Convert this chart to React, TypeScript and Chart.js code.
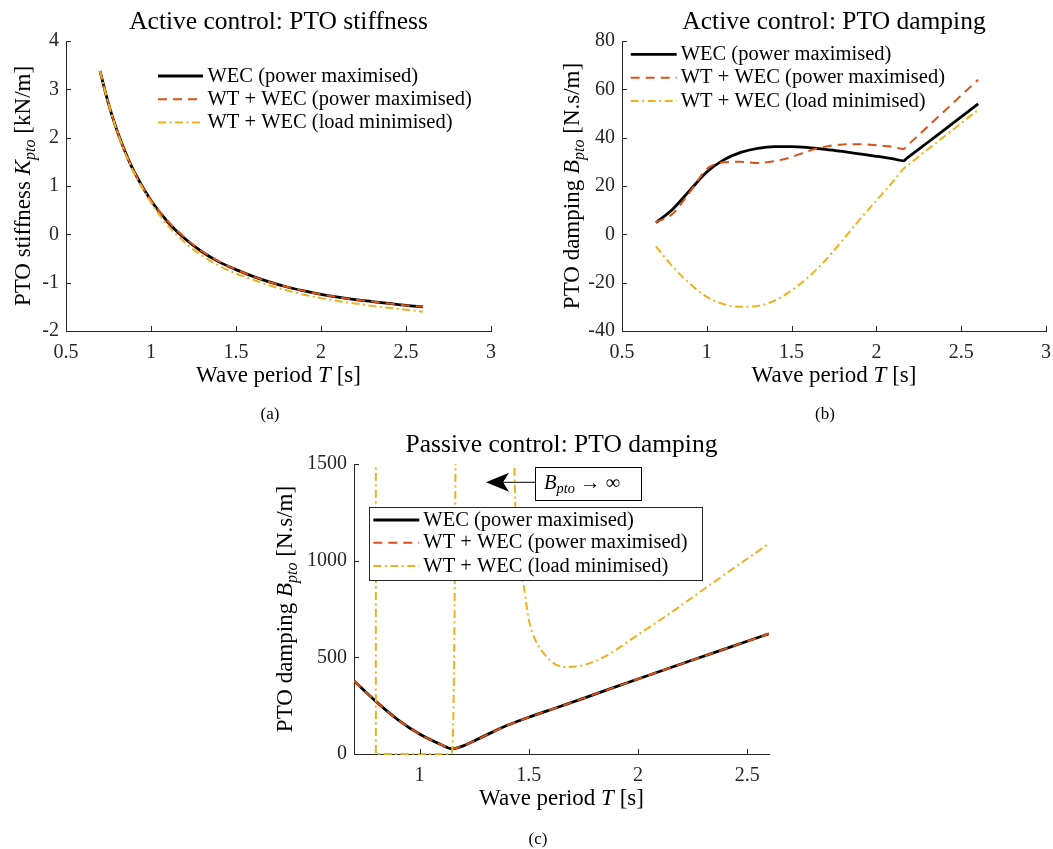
import React, { useEffect, useRef } from "react";
import { Chart, registerables } from "chart.js";

Chart.register(...registerables);

// ---------------- data ----------------
const INF = 1e5; // B_pto -> infinity (drawn off the top of the chart)

const legendLabels = [
  "WEC (power maximised)",
  "WT + WEC (power maximised)",
  "WT + WEC (load minimised)",
];

// (a) Active control: PTO stiffness [kN/m]
const periodA = [0.7, 0.75, 0.8, 0.85, 0.9, 1.0, 1.1, 1.2, 1.3, 1.4, 1.5, 1.6, 1.7, 1.8, 1.9, 2.0, 2.1, 2.2, 2.3, 2.4, 2.5, 2.6];
const kptoWec = [3.38, 2.7, 2.15, 1.69, 1.3, 0.7, 0.25, -0.09, -0.36, -0.57, -0.73, -0.87, -0.99, -1.09, -1.17, -1.24, -1.3, -1.35, -1.39, -1.43, -1.47, -1.5];
const kptoWtWecPower = [3.38, 2.7, 2.15, 1.69, 1.3, 0.71, 0.27, -0.07, -0.35, -0.56, -0.73, -0.87, -0.99, -1.09, -1.17, -1.24, -1.3, -1.35, -1.39, -1.43, -1.47, -1.5];
const kptoWtWecLoad = [3.38, 2.7, 2.14, 1.67, 1.28, 0.66, 0.18, -0.17, -0.44, -0.65, -0.81, -0.94, -1.06, -1.16, -1.25, -1.32, -1.38, -1.43, -1.48, -1.52, -1.56, -1.6];

// (b) Active control: PTO damping [N.s/m]
const periodB = [0.7, 0.8, 0.9, 1.0, 1.1, 1.2, 1.3, 1.4, 1.5, 1.6, 1.7, 1.8, 1.9, 2.0, 2.1, 2.16, 2.18, 2.3, 2.45, 2.6];
const bActiveWec = [4.8, 10.5, 18.2, 25.8, 30.8, 33.9, 35.6, 36.3, 36.3, 35.9, 35.2, 34.3, 33.3, 32.3, 31.2, 30.4, 31.5, 37.9, 45.9, 54.0];
const bActiveWtWecPower = [5.0, 8.6, 17.5, 27.0, 29.8, 30.0, 29.5, 30.3, 32.0, 34.5, 36.3, 37.2, 37.3, 36.9, 36.2, 35.3, 36.6, 44.4, 54.2, 64.0];
const bActiveWtWecLoad = [-5.0, -13.5, -20.4, -25.9, -28.9, -30.0, -29.6, -27.4, -23.2, -17.6, -10.7, -2.5, 6.0, 14.0, 22.0, 27.2, 28.3, 35.0, 43.2, 51.5];

// (c) Passive control: PTO damping [N.s/m]
const periodC = [0.7, 0.8, 0.9, 1.0, 1.1, 1.15, 1.2, 1.3, 1.4, 1.5, 1.6, 1.75, 2.0, 2.25, 2.5, 2.6];
const bPassiveWec = [378, 272, 178, 103, 48, 27, 42, 95, 147, 190, 229, 288, 388, 486, 583, 622];
const bPassiveWtWecPower = [378, 272, 178, 103, 48, 27, 42, 95, 147, 190, 229, 288, 388, 486, 583, 622];
const periodCLoad = [0.7, 0.8, 0.8, 1.145, 1.165, 1.17, 1.43, 1.434, 1.468, 1.5, 1.53, 1.58, 1.625, 1.675, 1.74, 1.85, 2.0, 2.16, 2.32, 2.5, 2.6];
const bPassiveWtWecLoad = [INF, INF, 0, 0, 1600, INF, INF, 1500, 900, 695, 591, 505, 462, 450, 457, 505, 617, 738, 867, 1010, 1088];

// tick labels
const tTicksActive = [0.5, 1, 1.5, 2, 2.5, 3];
const tTicksPassive = [1, 1.5, 2, 2.5];
const kTicks = [-2, -1, 0, 1, 2, 3, 4];
const bActiveTicks = [-40, -20, 0, 20, 40, 60, 80];
const bPassiveTicks = [0, 500, 1000, 1500];

// ---------------- styles / layout ----------------
const FONT = '"Liberation Serif", "Times New Roman", serif';
const AXIS = "#262626";
const STYLE = [
  { color: "#000000", width: 2.8, dash: [] as number[] },
  { color: "#D95319", width: 2, dash: [9, 6] },
  { color: "#EDB120", width: 2, dash: [8, 3.5, 2, 3.5] },
];
const SZ = { title: 25.5, label: 23, tick: 20, legend: 20.5 };
const Y_AXIS_W = 60;
const X_AXIS_H = 40;

type Seg = { t: string; it?: boolean; sub?: boolean };

function setFont(ctx: CanvasRenderingContext2D, size: number, italic = false) {
  ctx.font = `${italic ? "italic " : ""}${size}px ${FONT}`;
}
function segWidth(ctx: CanvasRenderingContext2D, segs: Seg[], size: number) {
  let w = 0;
  for (const s of segs) {
    setFont(ctx, s.sub ? size * 0.7 : size, s.it);
    w += ctx.measureText(s.t).width;
  }
  return w;
}
function drawSegs(ctx: CanvasRenderingContext2D, segs: Seg[], size: number, x: number, y: number) {
  let cx = x;
  for (const s of segs) {
    const sz = s.sub ? size * 0.7 : size;
    setFont(ctx, sz, s.it);
    ctx.fillText(s.t, cx, y + (s.sub ? size * 0.22 : 0));
    cx += ctx.measureText(s.t).width;
  }
}

function series(i: number, xs: number[], ys: number[], extra: any = {}) {
  return {
    label: legendLabels[i],
    data: xs.map((x, k) => ({ x, y: ys[k] })),
    borderColor: STYLE[i].color,
    borderWidth: STYLE[i].width,
    borderDash: STYLE[i].dash,
    pointRadius: 0,
    fill: false,
    cubicInterpolationMode: "monotone",
    order: 3 - i,
    ...extra,
  };
}

const xTitle: Seg[] = [{ t: "Wave period " }, { t: "T", it: true }, { t: " [s]" }];
const yTitleK: Seg[] = [{ t: "PTO stiffness " }, { t: "K", it: true }, { t: "pto", it: true, sub: true }, { t: " [kN/m]" }];
const yTitleB: Seg[] = [{ t: "PTO damping " }, { t: "B", it: true }, { t: "pto", it: true, sub: true }, { t: " [N.s/m]" }];

type Spec = {
  region: { x: number; y: number; w: number; h: number };
  area: { l: number; t: number; r: number; b: number };
  x: { min: number; max: number; ticks: number[] };
  y: { min: number; max: number; ticks: number[] };
  datasets: any[];
  title: string;
  yTitle: Seg[];
  yTitleOffset: number;
  legend: { x0: number; x1: number; tx: number; rows: number[]; box?: { l: number; t: number; r: number; b: number } };
  note?: { box: { l: number; t: number; r: number; b: number }; tipX: number; tipY: number; tx: number; ty: number };
};

const specs: Spec[] = [
  {
    region: { x: 0, y: 0, w: 520, h: 420 },
    area: { l: 66, t: 41, r: 491, b: 331 },
    x: { min: 0.5, max: 3, ticks: tTicksActive },
    y: { min: -2, max: 4, ticks: kTicks },
    datasets: [
      series(0, periodA, kptoWec),
      series(1, periodA, kptoWtWecPower),
      series(2, periodA, kptoWtWecLoad),
    ],
    title: "Active control: PTO stiffness",
    yTitle: yTitleK,
    yTitleOffset: 36,
    legend: { x0: 158, x1: 203, tx: 207.5, rows: [76, 99.3, 122.6] },
  },
  {
    region: { x: 520, y: 0, w: 533, h: 420 },
    area: { l: 622, t: 41, r: 1046, b: 331 },
    x: { min: 0.5, max: 3, ticks: tTicksActive },
    y: { min: -40, max: 80, ticks: bActiveTicks },
    datasets: [
      series(0, periodB, bActiveWec),
      series(1, periodB, bActiveWtWecPower),
      series(2, periodB, bActiveWtWecLoad),
    ],
    title: "Active control: PTO damping",
    yTitle: yTitleB,
    yTitleOffset: 43,
    legend: { x0: 110.7, x1: 156.7, tx: 160.7, rows: [54.3, 77.7, 101] },
  },
  {
    region: { x: 260, y: 420, w: 540, h: 429 },
    area: { l: 354, t: 464, r: 769, b: 754 },
    x: { min: 0.7, max: 2.6, ticks: tTicksPassive },
    y: { min: 0, max: 1500, ticks: bPassiveTicks },
    datasets: [
      series(0, periodC, bPassiveWec),
      series(1, periodC, bPassiveWtWecPower),
      series(2, periodCLoad, bPassiveWtWecLoad, { clip: { left: 0, top: 0, right: 0, bottom: 3 } }),
    ],
    title: "Passive control: PTO damping",
    yTitle: yTitleB,
    yTitleOffset: 62,
    legend: { x0: 113.3, x1: 159.3, tx: 163.3, rows: [100, 122.7, 146], box: { l: 109, t: 86.7, r: 441.7, b: 160 } },
    note: { box: { l: 275, t: 47.3, r: 381, b: 80.7 }, tipX: 226, tipY: 62.3, tx: 284, ty: 68.5 },
  },
];

function decorPlugin(spec: Spec) {
  return {
    id: "decor",
    afterDraw(chart: any) {
      const ctx: CanvasRenderingContext2D = chart.ctx;
      const a = chart.chartArea;
      const xs = chart.scales.x;
      const ys = chart.scales.y;
      ctx.save();
      // inward tick marks
      ctx.strokeStyle = AXIS;
      ctx.lineWidth = 1;
      ctx.setLineDash([]);
      ctx.beginPath();
      for (const t of xs.ticks) {
        const px = Math.round(xs.getPixelForValue(t.value)) + 0.5;
        ctx.moveTo(px, a.bottom);
        ctx.lineTo(px, a.bottom - 5);
      }
      for (const t of ys.ticks) {
        const py = Math.round(ys.getPixelForValue(t.value)) + 0.5;
        ctx.moveTo(a.left, py);
        ctx.lineTo(a.left + 5, py);
      }
      ctx.stroke();

      // titles
      ctx.fillStyle = "#000";
      ctx.textAlign = "left";
      ctx.textBaseline = "alphabetic";
      const cx = (a.left + a.right) / 2;
      setFont(ctx, SZ.title);
      const tw = ctx.measureText(spec.title).width;
      ctx.fillText(spec.title, cx - tw / 2, a.top - 12.5);
      const xw = segWidth(ctx, xTitle, SZ.label);
      drawSegs(ctx, xTitle, SZ.label, cx - xw / 2, a.bottom + 50.5);
      ctx.save();
      ctx.translate(a.left - spec.yTitleOffset, (a.top + a.bottom) / 2);
      ctx.rotate(-Math.PI / 2);
      const yw = segWidth(ctx, spec.yTitle, SZ.label);
      drawSegs(ctx, spec.yTitle, SZ.label, -yw / 2, 0);
      ctx.restore();

      // legend
      const L = spec.legend;
      if (L.box) {
        const b = L.box;
        ctx.fillStyle = "#fff";
        ctx.fillRect(b.l, b.t, b.r - b.l, b.b - b.t);
        ctx.strokeStyle = AXIS;
        ctx.lineWidth = 1;
        ctx.strokeRect(Math.round(b.l) + 0.5, Math.round(b.t) + 0.5, Math.round(b.r - b.l), Math.round(b.b - b.t));
      }
      chart.data.datasets.forEach((d: any, i: number) => {
        const y = L.rows[i];
        ctx.save();
        ctx.strokeStyle = d.borderColor;
        ctx.lineWidth = d.borderWidth;
        ctx.setLineDash(d.borderDash || []);
        ctx.beginPath();
        ctx.moveTo(L.x0, y);
        ctx.lineTo(L.x1, y);
        ctx.stroke();
        ctx.restore();
        ctx.fillStyle = "#000";
        setFont(ctx, SZ.legend);
        ctx.fillText(d.label, L.tx, y + 5.5);
      });

      // annotation
      if (spec.note) {
        const n = spec.note;
        const b = n.box;
        ctx.fillStyle = "#fff";
        ctx.fillRect(b.l, b.t, b.r - b.l, b.b - b.t);
        ctx.strokeStyle = "#000";
        ctx.lineWidth = 1;
        ctx.strokeRect(Math.round(b.l) + 0.5, Math.round(b.t) + 0.5, Math.round(b.r - b.l), Math.round(b.b - b.t));
        ctx.beginPath();
        ctx.moveTo(b.l, n.tipY);
        ctx.lineTo(n.tipX + 15, n.tipY);
        ctx.stroke();
        ctx.fillStyle = "#000";
        ctx.beginPath();
        ctx.moveTo(n.tipX, n.tipY);
        ctx.lineTo(n.tipX + 23, n.tipY - 9.5);
        ctx.lineTo(n.tipX + 17, n.tipY);
        ctx.lineTo(n.tipX + 23, n.tipY + 9.5);
        ctx.closePath();
        ctx.fill();
        drawSegs(ctx, [{ t: "B", it: true }, { t: "pto", it: true, sub: true }, { t: " \u2192 \u221E" }], SZ.legend, n.tx, n.ty);
      }
      ctx.restore();
    },
  };
}

function axisOpts(ax: { min: number; max: number; ticks: number[] }, horizontal: boolean) {
  return {
    type: "linear",
    min: ax.min,
    max: ax.max,
    afterBuildTicks: (s: any) => {
      s.ticks = ax.ticks.map((v) => ({ value: v }));
    },
    afterFit: (s: any) => {
      if (horizontal) s.height = X_AXIS_H;
      else s.width = Y_AXIS_W;
    },
    grid: { display: false, drawTicks: false },
    border: { display: true, color: AXIS, width: 1 },
    ticks: {
      font: horizontal
        ? { family: FONT, size: SZ.tick, lineHeight: 2.15 }
        : { family: FONT, size: SZ.tick },
      color: AXIS,
      padding: horizontal ? 0 : 7,
      maxRotation: 0,
      autoSkip: false,
      callback: (v: any) => String(v),
    },
  };
}

function Panel({ spec }: { spec: Spec }) {
  const ref = useRef<HTMLCanvasElement>(null);
  useEffect(() => {
    const r = spec.region;
    const a = spec.area;
    const chart = new Chart(ref.current as HTMLCanvasElement, {
      type: "line",
      data: { datasets: spec.datasets },
      options: {
        responsive: false,
        animation: false,
        events: [],
        layout: {
          padding: {
            left: a.l - r.x - Y_AXIS_W,
            top: a.t - r.y,
            right: r.x + r.w - a.r,
            bottom: r.y + r.h - a.b - X_AXIS_H,
          },
        },
        plugins: { legend: { display: false }, tooltip: { enabled: false }, title: { display: false } },
        scales: { x: axisOpts(spec.x, true), y: axisOpts(spec.y, false) } as any,
      } as any,
      plugins: [decorPlugin(spec) as any],
    } as any);
    return () => chart.destroy();
  }, []);
  const r = spec.region;
  return (
    <canvas
      ref={ref}
      width={r.w}
      height={r.h}
      style={{ position: "absolute", left: r.x, top: r.y, width: r.w, height: r.h }}
    />
  );
}

const captions = [
  { t: "(a)", x: 270, y: 413 },
  { t: "(b)", x: 825, y: 413 },
  { t: "(c)", x: 538, y: 838 },
];

export default function App() {
  return (
    <div style={{ position: "absolute", left: 0, top: 0, width: 1053, height: 849, background: "#fff", overflow: "hidden" }}>
      {specs.map((s, i) => (
        <Panel key={i} spec={s} />
      ))}
      {captions.map((c) => (
        <div
          key={c.t}
          style={{
            position: "absolute",
            left: c.x,
            top: c.y,
            transform: "translate(-50%, -50%)",
            fontFamily: FONT,
            fontSize: 17,
            lineHeight: 1,
            color: "#000",
            whiteSpace: "nowrap",
          }}
        >
          {c.t}
        </div>
      ))}
    </div>
  );
}
